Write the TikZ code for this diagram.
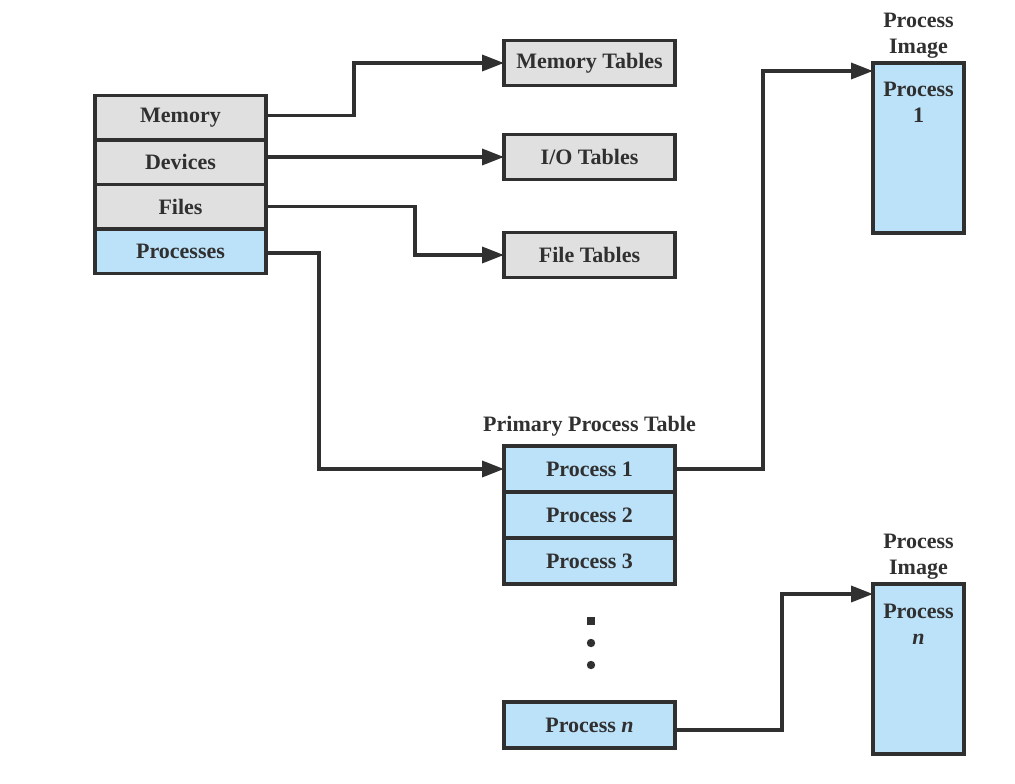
\documentclass[tikz,border=0pt]{standalone}
\usepackage{fontspec}
\setmainfont{Liberation Serif}
\usetikzlibrary{arrows.meta}
\definecolor{tablegray}{RGB}{224,224,224}
\definecolor{procblue}{RGB}{188,226,249}
\definecolor{edgegray}{RGB}{48,48,48}

\begin{document}
\begin{tikzpicture}[x=1pt,y=-1pt,
        cell/.style={draw=edgegray, line width=3.5pt, outer sep=0pt, inner sep=0pt,
            minimum width=171pt, minimum height=45pt, text=edgegray,
            font=\fontsize{22}{24}\selectfont\bfseries},
        imgbox/.style={draw=edgegray, line width=3.5pt, outer sep=0pt, fill=procblue,
            minimum width=91pt, minimum height=170pt},
        imgtext/.style={align=center, text=edgegray, inner sep=0pt,
            font=\fontsize{22}{26}\selectfont\bfseries},
        conn/.style={draw=edgegray, line width=3.5pt,
            -{Triangle[length=22pt,width=16pt]}}]
        \useasboundingbox (0,0) rectangle (1015,784);
        % left stack
        \foreach \name/\txt/\y/\col in {mem/Memory/117.5/tablegray,
            dev/Devices/162/tablegray, fil/Files/206.5/tablegray,
            proc/Processes/251/procblue}{
            \node[cell, fill=\col, minimum width=171pt, minimum height=44.5pt] (\name) at (180.5,\y) {\txt};
        }
        % resource tables
        \foreach \name/\txt/\y in {memt/Memory Tables/63, iot/{I/O Tables}/157, filt/File Tables/255}{
            \node[cell, fill=tablegray] (\name) at (589.5,\y) {\txt};
        }
        % primary process table
        \foreach \i/\y in {1/469,2/515,3/561}{
            \node[cell, fill=procblue, minimum height=46pt] (p\i) at (589.5,\y) {Process \i};
        }
        \node[imgtext, anchor=south] (ptab) at ([yshift=10pt]p1.north) {Primary Process Table};
        \fill[edgegray] (587,617) rectangle (595,625);
        \foreach \y in {643,665}{
            \fill[edgegray] (591,\y) circle (4.2pt);
        }
        \node[cell, fill=procblue, minimum height=46pt] (pn) at (589.5,725) {Process \textit{n}};
        % process images
        \node[imgbox] (img1) at (918.5,148) {};
        \node[imgtext, anchor=south] (img1h) at ([yshift=4pt]img1.north) {Process\\Image};
        \node[imgtext, anchor=north] (img1t) at ([yshift=-19pt]img1.north) {Process\\1};
        \node[imgbox] (imgn) at (918.5,669) {};
        \node[imgtext, anchor=south] (imgnh) at ([yshift=4pt]imgn.north) {Process\\Image};
        \node[imgtext, anchor=north] (imgnt) at ([yshift=-20pt]imgn.north) {Process\\\textit{n}};
        % connectors
        \draw[conn] ([yshift=2pt]mem.east) -- ++(88,0) |- (memt.west);
        \draw[conn] (dev.east |- iot.west) -- (iot.west);
        \draw[conn] (fil.east) -- ++(149,0) |- (filt.west);
        \draw[conn] ([yshift=-2pt]proc.east) -- ++(53,0) |- (p1.west);
        \draw[conn] (p1.east) -- ++(88,0) |- ([yshift=-8pt]img1.north west);
        \draw[conn] ([yshift=-5pt]pn.east) -- ++(107,0) |- ([yshift=-10pt]imgn.north west);
    \end{tikzpicture}
\end{document}
